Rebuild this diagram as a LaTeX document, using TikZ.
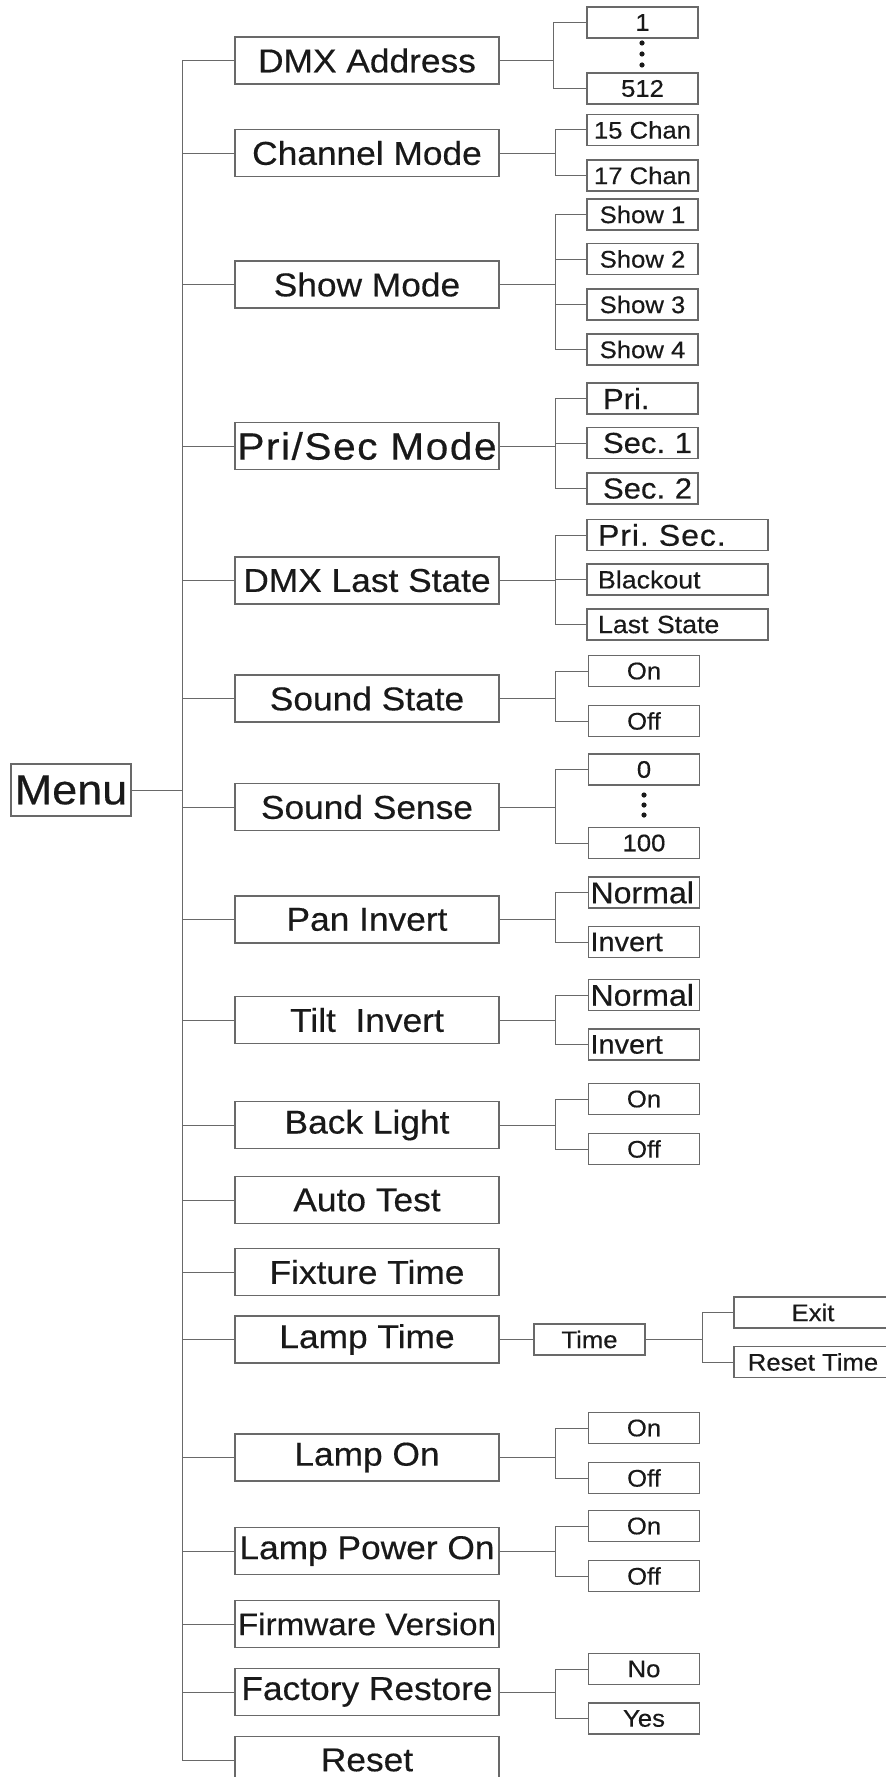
\documentclass[tikz,border=0pt]{standalone}
\usepackage{fontspec}
\setmainfont{Liberation Sans}[FakeStretch=1.07,FakeBold=0.4]
\usetikzlibrary{calc}
\definecolor{graphite}{RGB}{105,105,105}
\definecolor{soot}{RGB}{25,25,25}
\tikzset{
  wire/.style={draw=graphite,line width=0.5pt},
  menu box/.style={draw=graphite,line width=0.65pt,minimum width=60pt,minimum height=26pt,
    inner sep=0pt,text=soot,font=\fontsize{21}{24}\selectfont},
  item/.style={draw=graphite,line width=0.65pt,minimum width=132pt,minimum height=23.5pt,
    inner sep=0pt,text=soot,font=\fontsize{16.5}{19}\selectfont},
  opt/.style={draw=graphite,line width=0.65pt,minimum width=#1,minimum height=15.5pt,
    inner sep=0pt,text=soot,font=\fontsize{12}{14}\selectfont},
  opt/.default=55.5pt,
  % text flush left inside the box
  flush/.style 2 args={opt,align=left,inner xsep=#1,text width=#2},
}

\begin{document}
\begin{tikzpicture}[x=0.5pt,y=-0.5pt]
  \useasboundingbox (0,0) rectangle (885,1777);
  \coordinate (trunk) at (182,60.5);
  \coordinate (forkx) at (555,0);

  \node[menu box] (menu) at (71,790) {Menu};
  \draw[wire] (menu.east) -- (menu.east -| trunk);
  \draw[wire] (trunk) -- (182,1760);

  \foreach \n/\y/\t in {dmx/60.5/DMX Address, chan/153/Channel Mode, show/284.5/Show Mode,
      dmxlast/580.5/DMX Last State, sstate/698.5/Sound State, ssense/807/Sound Sense,
      pan/919.5/Pan Invert, tilt/1020/Tilt\ \ Invert, back/1125/Back Light, auto/1200/Auto Test,
      fixture/1272/Fixture Time, lamptime/1339.5/Lamp Time, lampon/1457.5/Lamp On,
      lamppower/1551/Lamp Power On, factory/1692/Factory Restore, reset/1760/Reset}{
    \node[item] (\n) at (367,\y) {\t};
    \draw[wire] (\n.west) -- (\n.west -| trunk);
  }
  \node[item,font=\fontsize{19}{22}\selectfont\addfontfeature{LetterSpace=4}] (prisec) at (367,446) {Pri/Sec Mode};
  \node[item,font=\fontsize{15.5}{18}\selectfont] (firmware) at (367,1624) {Firmware Version};
  \draw[wire] (prisec.west) -- (prisec.west -| trunk) (firmware.west) -- (firmware.west -| trunk);

  % DMX Address
  \node[opt] (addr1) at (642.5,22.5) {1};
  \node[opt] (addr512) at (642.5,88.5) {512};
  \foreach \y in {43,54,65} \fill[soot] (642,\y) circle (1.3pt);
  \coordinate (dmxfork) at (553,60.5);
  \draw[wire] (dmx.east) -- (dmxfork) |- (addr1.west) (dmxfork) |- (addr512.west);

  % Channel Mode
  \node[opt] (ch15) at (642.5,130) {15 Chan};
  \node[opt] (ch17) at (642.5,175.5) {17 Chan};
  \draw[wire] (chan.east) -- (chan.east -| forkx) |- (ch15.west) (chan.east -| forkx) |- (ch17.west);

  % Show Mode
  \foreach \i/\y in {1/214.5,2/259,3/304.5,4/349.5}{
    \node[opt] (show\i) at (642.5,\y) {Show \i};
    \draw[wire] (show.east -| forkx) |- (show\i.west);
  }
  \draw[wire] (show.east) -- (show.east -| forkx);

  % Pri/Sec Mode
  \foreach \i/\y/\t in {1/398.5/Pri., 2/443/Sec.~1, 3/488.5/Sec.~2}{
    \node[flush={8pt}{39.5pt},font=\fontsize{14.5}{17}\selectfont] (ps\i) at (642.5,\y) {\t};
    \draw[wire] (prisec.east -| forkx) |- (ps\i.west);
  }
  \draw[wire] (prisec.east) -- (prisec.east -| forkx);

  % DMX Last State
  \node[flush={5.5pt}{79.5pt},font=\fontsize{15}{17}\selectfont\addfontfeature{LetterSpace=3}] (last1) at (677.5,535) {Pri.~Sec.};
  \node[flush={5.5pt}{79.5pt},font=\fontsize{12.5}{15}\selectfont] (last2) at (677.5,579.5) {Blackout};
  \node[flush={5.5pt}{79.5pt},font=\fontsize{12.5}{15}\selectfont] (last3) at (677.5,624.5) {Last~State};
  \draw[wire] (dmxlast.east) -- (dmxlast.east -| forkx);
  \foreach \i in {1,2,3} \draw[wire] (dmxlast.east -| forkx) |- (last\i.west);

  % On / Off
  \foreach \n/\ya/\yb in {sstate/671/721, back/1099/1149, lampon/1428/1478, lamppower/1526/1576}{
    \node[opt] (\n a) at (644,\ya) {On};
    \node[opt] (\n b) at (644,\yb) {Off};
    \draw[wire] (\n.east) -- (\n.east -| forkx) |- (\n a.west) (\n.east -| forkx) |- (\n b.west);
  }

  % Sound Sense
  \node[opt] (sense0) at (644,769.5) {0};
  \node[opt] (sense100) at (644,843) {100};
  \foreach \y in {795,805,815} \fill[soot] (644,\y) circle (1.3pt);
  \draw[wire] (ssense.east) -- (ssense.east -| forkx) |- (sense0.west) (ssense.east -| forkx) |- (sense100.west);

  % Pan / Tilt
  \foreach \n/\ya/\yb in {pan/892.5/942, tilt/995/1044.5}{
    \node[flush={1pt}{53.5pt},font=\fontsize{15}{17}\selectfont] (\n a) at (644,\ya) {Normal};
    \node[flush={1pt}{53.5pt},font=\fontsize{13.5}{16}\selectfont] (\n b) at (644,\yb) {Invert};
    \draw[wire] (\n.east) -- (\n.east -| forkx) |- (\n a.west) (\n.east -| forkx) |- (\n b.west);
  }

  % Lamp Time
  \node[opt] (time) at (589.5,1339.5) {Time};
  \node[opt=79pt] (exit) at (813,1312.5) {Exit};
  \node[opt=79pt] (resettime) at (813,1362) {Reset Time};
  \coordinate (timefork) at (702,1339.5);
  \draw[wire] (lamptime.east) -- (time.west) (time.east) -- (timefork) |- (exit.west) (timefork) |- (resettime.west);

  % Factory Restore
  \node[opt] (no) at (644,1669) {No};
  \node[opt] (yes) at (644,1718.5) {Yes};
  \draw[wire] (factory.east) -- (factory.east -| forkx) |- (no.west) (factory.east -| forkx) |- (yes.west);
\end{tikzpicture}
\end{document}
